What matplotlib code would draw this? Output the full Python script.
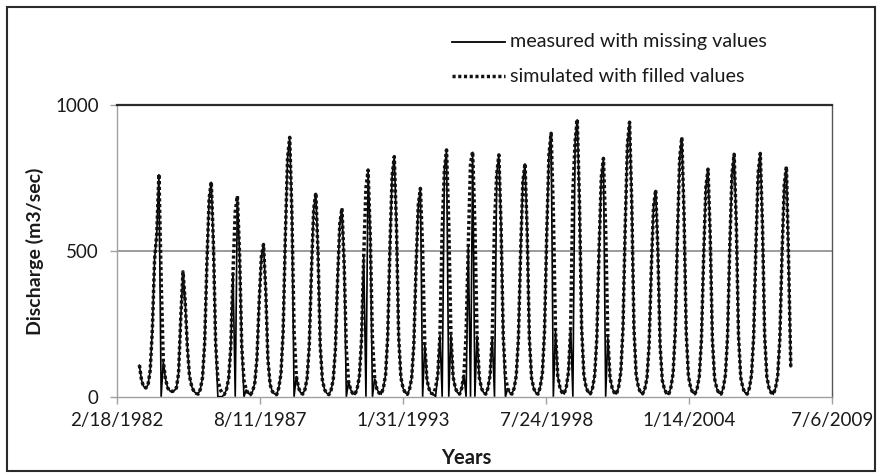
import matplotlib
matplotlib.use("Agg")
import matplotlib.pyplot as plt
import matplotlib.dates as mdates
from matplotlib.lines import Line2D
from matplotlib.patches import Rectangle
import numpy as np
import pandas as pd

plt.rcParams['font.family'] = ['Lato', 'DejaVu Sans']

# Monthly discharge (m3/sec), Jan..Dec, simulated series with filled values
q1983 = [108, 55, 35, 30, 40, 90, 230, 470, 560, 763, 400, 120]
q1984 = [60, 30, 20, 18, 20, 30, 80, 270, 428, 330, 170, 70]
q1985 = [35, 18, 12, 9, 25, 66, 185, 457, 678, 737, 516, 184]
q1986 = [59, 26, 13, 8, 24, 62, 172, 427, 633, 688, 482, 172]
q1987 = [55, 24, 12, 7, 18, 47, 130, 324, 480, 522, 365, 130]
q1988 = [42, 18, 10, 7, 30, 80, 222, 551, 818, 889, 622, 222]
q1989 = [71, 31, 14, 9, 24, 63, 175, 433, 643, 699, 489, 175]
q1990 = [56, 24, 12, 7, 22, 58, 162, 401, 594, 646, 452, 162]
q1991 = [52, 23, 11, 8, 27, 70, 194, 482, 715, 777, 544, 194]
q1992 = [62, 27, 13, 9, 29, 74, 206, 510, 757, 823, 576, 206]
q1993 = [66, 29, 14, 8, 25, 64, 179, 443, 657, 714, 500, 179]
q1994 = [57, 25, 12, 9, 30, 76, 212, 570, 778, 846, 592, 212]
q1995 = [68, 30, 14, 9, 29, 76, 210, 521, 800, 840, 588, 210]
q1996 = [67, 29, 14, 9, 29, 75, 207, 590, 763, 829, 580, 207]
q1997 = [66, 29, 14, 9, 28, 72, 200, 496, 736, 800, 560, 200]
q1998 = [64, 28, 13, 9, 32, 81, 226, 560, 831, 903, 632, 226]
q1999 = [72, 32, 15, 10, 33, 86, 238, 700, 875, 951, 666, 238]
q2000 = [76, 33, 15, 10, 29, 74, 204, 507, 752, 817, 572, 204]
q2001 = [65, 29, 14, 9, 33, 85, 235, 583, 866, 941, 659, 235]
q2002 = [75, 33, 15, 10, 25, 64, 177, 440, 652, 709, 496, 177]
q2003 = [57, 25, 12, 8, 31, 80, 222, 551, 818, 889, 622, 222]
q2004 = [71, 31, 14, 10, 27, 70, 195, 484, 718, 780, 546, 195]
q2005 = [62, 27, 13, 9, 29, 75, 208, 515, 765, 831, 582, 208]
q2006 = [66, 29, 14, 9, 29, 75, 209, 517, 767, 834, 584, 209]
q2007 = [67, 29, 14, 9, 28, 71, 197, 489, 726, 789, 460, 103]

# Months without a gauge record (blank cells, drawn at zero)
missing_months = ["1983-11", "1986-01", "1986-02", "1986-03", "1986-09",
                  "1987-01", "1988-12", "1990-12", "1991-09", "1991-12",
                  "1993-11", "1994-05", "1994-08", "1994-11", "1995-07",
                  "1995-09", "1995-11", "1996-08", "1997-01", "1998-11",
                  "1999-08", "2000-11"]

tick_labels = ["2/18/1982", "8/11/1987", "1/31/1993", "7/24/1998",
               "1/14/2004", "7/6/2009"]
y_ticks = [0, 500, 1000]

yearly = [q1983, q1984, q1985, q1986, q1987, q1988, q1989, q1990, q1991,
          q1992, q1993, q1994, q1995, q1996, q1997, q1998, q1999, q2000,
          q2001, q2002, q2003, q2004, q2005, q2006, q2007]
simulated = np.concatenate(yearly).astype(float)
dates = pd.date_range("1983-01-01", periods=len(simulated), freq="MS")

measured = simulated.copy()
month_keys = dates.strftime("%Y-%m")
measured[np.isin(month_keys, missing_months)] = 0.0

W, H = 881, 475
fig = plt.figure(figsize=(W / 100, H / 100), dpi=100)
fig.patch.set_facecolor("white")

left, right, top, bottom = 116.7, 832.5, 105.0, 396.7
ax = fig.add_axes([left / W, 1 - bottom / H, (right - left) / W, (bottom - top) / H])

dot_style = (0, (0.9, 0.75))
ax.plot(dates, measured, color="black", lw=1.2, solid_joinstyle="miter", zorder=3)
ax.plot(dates, simulated, color="#111111", lw=2.5, linestyle=dot_style,
        dash_capstyle="butt", zorder=4)

tick_dates = pd.to_datetime(tick_labels, format="%m/%d/%Y")
ax.set_xlim(mdates.date2num(tick_dates[0]), mdates.date2num(tick_dates[-1]))
ax.set_xticks(mdates.date2num(tick_dates))
ax.set_xticklabels(tick_labels)
ax.set_ylim(0, 1000)
ax.set_yticks(y_ticks)
ax.set_yticklabels([str(v) for v in y_ticks])

ax.axhline(500, color="#8a8a8a", lw=1.2, zorder=1)

for side in ("left", "bottom"):
    ax.spines[side].set_color("#a0a0a0")
    ax.spines[side].set_linewidth(1.0)
ax.spines["top"].set_color("#2a2a2a")
ax.spines["top"].set_linewidth(1.6)
ax.spines["right"].set_color("#555555")
ax.spines["right"].set_linewidth(1.0)

ax.tick_params(axis="both", direction="out", length=5, width=1.0,
               color="#a0a0a0", labelsize=13.5, labelcolor="#1a1a1a")
ax.tick_params(axis="x", pad=6)
ax.tick_params(axis="y", pad=8)

fig.text(35 / W, 1 - 251 / H, "Discharge (m3/sec)", rotation=90,
         ha="center", va="center", fontsize=14, fontweight="bold",
         color="#1a1a1a")
fig.text(466 / W, 1 - 458 / H, "Years", ha="center", va="center",
         fontsize=14.5, fontweight="bold", color="#1a1a1a")

# Legend drawn on the figure above the plot area
fig.add_artist(Line2D([452 / W, 505 / W], [1 - 42 / H] * 2,
                      transform=fig.transFigure, color="black", lw=1.3))
fig.add_artist(Line2D([452 / W, 505 / W], [1 - 76 / H] * 2,
                      transform=fig.transFigure, color="#111111", lw=2.5,
                      linestyle=dot_style, dash_capstyle="butt"))
fig.text(510 / W, 1 - 42 / H, "measured with missing values", ha="left",
         va="center", fontsize=14.2, color="#1a1a1a")
fig.text(510 / W, 1 - 76 / H, "simulated with filled values", ha="left",
         va="center", fontsize=14.2, color="#1a1a1a")

fig.add_artist(Rectangle((7 / W, 4 / H), 868 / W, 464 / H,
                         transform=fig.transFigure, fill=False,
                         edgecolor="#2a2a2a", lw=1.5))

fig.savefig("out.png", dpi=100, facecolor="white")
